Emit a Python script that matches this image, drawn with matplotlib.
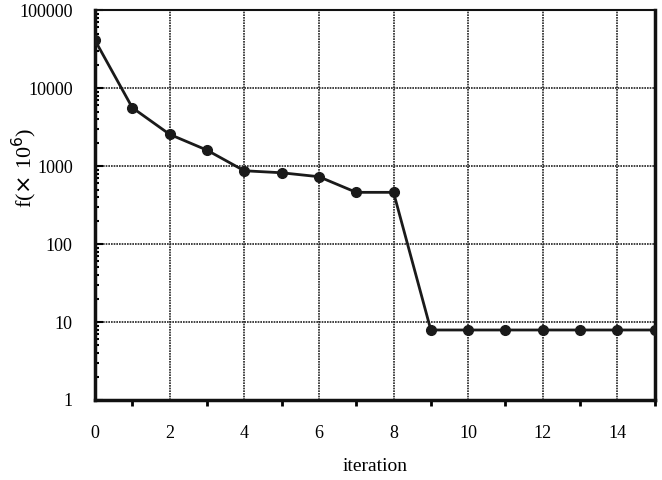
import numpy as np
import matplotlib.pyplot as plt
from matplotlib.ticker import FixedLocator, NullFormatter, LogLocator

plt.rcParams['font.family'] = ['Liberation Serif', 'DejaVu Serif']

# data
iteration = [0, 1, 2, 3, 4, 5, 6, 7, 8, 9, 10, 11, 12, 13, 14, 15]
f_values = [41000, 5600, 2550, 1600, 870, 820, 730, 460, 460,
            7.9, 7.9, 7.9, 7.9, 7.9, 7.9, 7.9]

x_major = [0, 2, 4, 6, 8, 10, 12, 14]
x_minor = [1, 3, 5, 7, 9, 11, 13, 15]
y_major = [1, 10, 100, 1000, 10000, 100000]
y_labels = ['1', '10', '100', '1000', '10000', '100000']

fig = plt.figure(figsize=(6.62, 4.8), dpi=100)
ax = fig.add_axes([0.1435, 0.1667, 0.8455, 0.8123])

ax.plot(iteration, f_values, color='#1a1a1a', linewidth=2.0,
        marker='o', markersize=7, markerfacecolor='#1a1a1a', zorder=3)

ax.set_yscale('log')
ax.set_xlim(0, 15)
ax.set_ylim(1, 100000)

ax.xaxis.set_major_locator(FixedLocator(x_major))
ax.xaxis.set_minor_locator(FixedLocator(x_minor))
ax.yaxis.set_major_locator(FixedLocator(y_major))
ax.set_yticklabels(y_labels)
ax.yaxis.set_minor_locator(LogLocator(base=10, subs=np.arange(2, 10)))
ax.yaxis.set_minor_formatter(NullFormatter())

ax.tick_params(axis='x', which='major', length=0, pad=18, labelsize=13)
ax.tick_params(axis='x', which='minor', direction='out', length=4, width=2)
ax.tick_params(axis='y', which='major', direction='in', length=6, width=1.5,
               pad=16, labelsize=13)
ax.tick_params(axis='y', which='minor', direction='in', length=3, width=1.5)

ax.grid(True, which='major', color='#222222', linestyle=(0, (1, 0.6)),
        linewidth=1.2)

for side in ['left', 'bottom', 'right', 'top']:
    ax.spines[side].set_linewidth(1.5)
    ax.spines[side].set_color('#111111')
ax.spines['left'].set_linewidth(2.5)
ax.spines['bottom'].set_linewidth(2.5)
ax.spines['right'].set_linewidth(2.5)

ax.set_xlabel('iteration', fontsize=14)
ax.xaxis.set_label_coords(0.5, -0.15)
ax.set_ylabel(r'f($\times$ 10$^6$)', fontsize=16)
ax.yaxis.set_label_coords(-0.10, 0.595)

fig.savefig('out.png', dpi=100)
